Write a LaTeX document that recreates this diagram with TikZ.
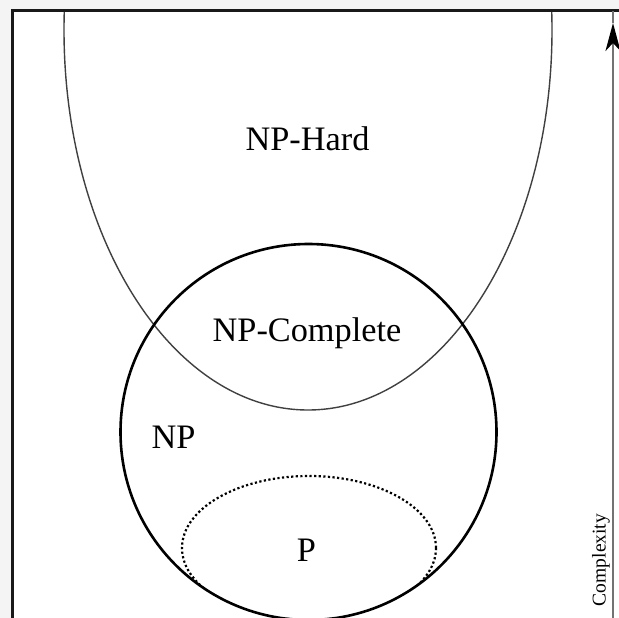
\documentclass[tikz,border=0pt]{standalone}
\usepackage{fontspec}
\setmainfont{Liberation Serif}
\usetikzlibrary{arrows.meta}
\begin{document}
\begin{tikzpicture}[x=1pt,y=-1pt,
  lbl/.style={anchor=base,inner sep=0pt,font=\fontsize{34.3}{40}\selectfont},
  framecol/.style={line width=2.4pt,black!90}]
\useasboundingbox (0,0) rectangle (619,618);
\fill[gray!9] (0,0) rectangle (619,618);
\fill[white] (12.5,10.5) rectangle (619,618);
% NP-Hard region (clipped to frame)
\begin{scope}
  \clip (12.5,11.5) rectangle (619,618);
  \draw[line width=1.4pt,black!75] (308,30) ellipse [x radius=244,y radius=380];
\end{scope}
% NP circle
\draw[line width=2.6pt,black] (308.5,432) circle [radius=188];
% P ellipse clipped by NP circle
\begin{scope}
  \clip (308.5,432) circle [radius=187];
  \draw[line width=2.2pt,black,dash pattern=on 2.2pt off 2.4pt] (309,548) ellipse [x radius=127,y radius=72];
\end{scope}
% frame
\draw[framecol] (619,10.5) -- (12.5,10.5) -- (12.5,618);
% complexity axis
\coordinate (axbot) at (613,618);
\coordinate (axtip) at (613,23);
\coordinate (axtop) at (613,11.5);
\draw[line width=2.2pt,black!55,-{Stealth[length=28pt,width=15pt,inset=8pt,black]}] (axbot) -- (axtip);
\draw[line width=2.2pt,black!55] (axtip) -- (axtop);
\node[rotate=90,inner sep=0pt,font=\fontsize{19.5}{22}\selectfont] (cx) at (601,560) {Complexity};
% labels
\node[lbl] (nph) at (307.5,150) {NP-Hard};
\node[lbl] (npc) at (307,341) {NP-Complete};
\node[lbl] (np) at (173.5,448) {NP};
\node[lbl] (p) at (306.5,561) {P};
\end{tikzpicture}
\end{document}
